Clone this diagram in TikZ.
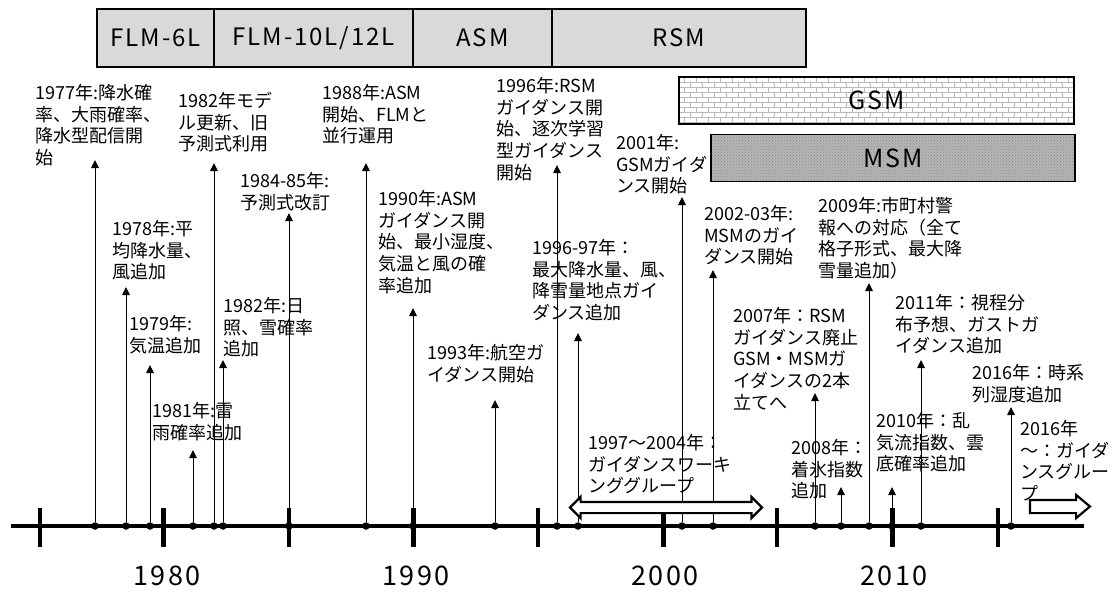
\documentclass[tikz,border=0pt]{standalone}
\usepackage{fontspec}
\setmainfont{Noto Sans CJK JP}
\newfontfamily\widefont[LetterSpace=8]{Noto Sans CJK JP}
\usepackage{tikz}
\usetikzlibrary{arrows.meta,shapes.arrows,patterns,patterns.meta}

\tikzdeclarepattern{
  name=smallbricks,
  bottom left={(-0.5pt,-0.5pt)},
  top right={(12.5pt,10.5pt)},
  tile size={(12pt,10pt)},
  code={
    \draw[line width=0.5pt] (0pt,0pt) -- (12pt,0pt) (0pt,5pt) -- (12pt,5pt)
      (0pt,0pt) -- (0pt,5pt) (6pt,5pt) -- (6pt,10pt);
  }
}

\begin{document}
\begin{tikzpicture}[x=1pt, y=-1pt,
    lbl/.style={anchor=north west, inner sep=0pt, align=left, font=\fontsize{18}{21.7}\selectfont},
    evt/.style={circle, fill=black, inner sep=0pt, minimum size=7.5pt},
    rise/.style={-{Triangle[length=8pt,width=7.5pt]}, line width=0.9pt},
    model/.style={draw, line width=1.2pt, fill=gray!30, minimum height=58pt, inner sep=0pt, font=\widefont\fontsize{24}{28}\selectfont},
    guid/.style={draw, line width=1.2pt, minimum height=47pt, inner sep=0pt, font=\widefont\fontsize{25}{28}\selectfont},
    yr/.style={font=\widefont\fontsize{27}{30}\selectfont, inner sep=0pt}]
    \useasboundingbox (0,0) rectangle (1117,592);

    % Models on top
    \node[model, minimum width=117pt] (flm6) at (155.5,38) {FLM-6L};
    \node[model, minimum width=199pt] (flm10) at (313.5,38) {FLM-10L/12L};
    \node[model, minimum width=139pt] (asm) at (482.5,38) {ASM};
    \node[model, minimum width=254pt] (rsm) at (679,38) {RSM};
    \node[guid, pattern=smallbricks, pattern color=gray!55, minimum width=395pt] (gsm) at (876.5,100.5) {GSM};
    \node[guid, preaction={fill=gray!58}, pattern=crosshatch dots, pattern color=gray!90, minimum width=364pt] (msm) at (893,158) {MSM};

    % Time axis
    \draw[line width=4.5pt] (11,526) -- (1084,526);
    \foreach \x in {40,289,538,777,998}
        \draw[line width=3.5pt] (\x,508) -- (\x,547);
    \foreach \x in {163,413,663,892}
        \draw[line width=5pt] (\x,508) -- (\x,547);
    \node[yr] (y1980) at (167,576) {1980};
    \node[yr] (y1990) at (416,576) {1990};
    \node[yr] (y2000) at (665,576) {2000};
    \node[yr] (y2010) at (894,576) {2010};

    % Events
    \node[evt] (d1977) at (95,526) {};
    \coordinate (t1977) at (95,160);
    \draw[rise] (d1977) -- (t1977);
    \node[lbl] (n1977) at (35,84) {1977年:降水確\\率、大雨確率、\\降水型配信開\\始};

    \node[evt] (d1978) at (126,526) {};
    \coordinate (t1978) at (126,287);
    \draw[rise] (d1978) -- (t1978);
    \node[lbl] (n1978) at (112,220) {1978年:平\\均降水量、\\風追加};

    \node[evt] (d1979) at (150,526) {};
    \coordinate (t1979) at (150,365);
    \draw[rise] (d1979) -- (t1979);
    \node[lbl] (n1979) at (129,315) {1979年:\\気温追加};

    \node[evt] (d1981) at (193,526) {};
    \coordinate (t1981) at (193,450);
    \draw[rise] (d1981) -- (t1981);
    \node[lbl] (n1981) at (152,402) {1981年:雷\\雨確率追加};

    \node[evt] (d1982m) at (214,526) {};
    \coordinate (t1982m) at (214,163);
    \draw[rise] (d1982m) -- (t1982m);
    \node[lbl] (n1982m) at (178,92) {1982年モデ\\ル更新、旧\\予測式利用};

    \node[evt] (d1982s) at (223,526) {};
    \coordinate (t1982s) at (223,360);
    \draw[rise] (d1982s) -- (t1982s);
    \node[lbl] (n1982s) at (223,297) {1982年:日\\照、雪確率\\追加};

    \node[evt] (d1985) at (289,526) {};
    \coordinate (t1985) at (289,213);
    \draw[rise] (d1985) -- (t1985);
    \node[lbl] (n1985) at (240,172) {1984-85年:\\予測式改訂};

    \node[evt] (d1988) at (366,526) {};
    \coordinate (t1988) at (366,163);
    \draw[rise] (d1988) -- (t1988);
    \node[lbl] (n1988) at (322,84) {1988年:ASM\\開始、FLMと\\並行運用};

    \node[evt] (d1990) at (413,526) {};
    \coordinate (t1990) at (413,308);
    \draw[rise] (d1990) -- (t1990);
    \node[lbl] (n1990) at (378,190) {1990年:ASM\\ガイダンス開\\始、最小湿度、\\気温と風の確\\率追加};

    \node[evt] (d1993) at (495,526) {};
    \coordinate (t1993) at (495,400);
    \draw[rise] (d1993) -- (t1993);
    \node[lbl] (n1993) at (427,344) {1993年:航空ガ\\イダンス開始};

    \node[evt] (d1996) at (557,526) {};
    \coordinate (t1996) at (557,165);
    \draw[rise] (d1996) -- (t1996);
    \node[lbl] (n1996) at (496,77) {1996年:RSM\\ガイダンス開\\始、逐次学習\\型ガイダンス\\開始};

    \node[evt] (d1997) at (578,526) {};
    \coordinate (t1997) at (578,333);
    \draw[rise] (d1997) -- (t1997);
    \node[lbl] (n1997) at (532,239) {1996-97年：\\最大降水量、風、\\降雪量地点ガイ\\ダンス追加};

    \node[evt] (d2001) at (682,526) {};
    \coordinate (t2001) at (682,197);
    \draw[rise] (d2001) -- (t2001);
    \node[lbl] (n2001) at (616,134) {2001年:\\GSMガイダ\\ンス開始};

    \node[evt] (d2002) at (713,526) {};
    \coordinate (t2002) at (713,270);
    \draw[rise] (d2002) -- (t2002);
    \node[lbl] (n2002) at (704,205) {2002-03年:\\MSMのガイ\\ダンス開始};

    \node[evt] (d2007) at (815,526) {};
    \coordinate (t2007) at (815,393);
    \draw[rise] (d2007) -- (t2007);
    \node[lbl] (n2007) at (733,307) {2007年：RSM\\ガイダンス廃止\\GSM・MSMガ\\イダンスの2本\\立てへ};

    \node[evt] (d2008) at (841,526) {};
    \coordinate (t2008) at (841,487);
    \draw[rise] (d2008) -- (t2008);
    \node[lbl] (n2008) at (791,439) {2008年：\\着氷指数\\追加};

    \node[evt] (d2009) at (869,526) {};
    \coordinate (t2009) at (869,283);
    \draw[rise] (d2009) -- (t2009);
    \node[lbl] (n2009) at (818,197) {2009年:市町村警\\報への対応（全て\\格子形式、最大降\\雪量追加）};

    \node[evt] (d2010) at (892,526) {};
    \coordinate (t2010) at (892,487);
    \draw[rise] (d2010) -- (t2010);
    \node[lbl] (n2010) at (876,412) {2010年：乱\\気流指数、雲\\底確率追加};

    \node[evt] (d2011) at (921,526) {};
    \coordinate (t2011) at (921,360);
    \draw[rise] (d2011) -- (t2011);
    \node[lbl] (n2011) at (895,294) {2011年：視程分\\布予想、ガストガ\\イダンス追加};

    \node[evt] (d2016) at (1011,526) {};
    \coordinate (t2016) at (1011,407);
    \draw[rise] (d2016) -- (t2016);
    \node[lbl] (n2016) at (972,364) {2016年：時系\\列湿度追加};

    % Guidance groups
    \node[double arrow, draw, line width=2.2pt, fill=white, inner sep=0pt, text height=9pt, text depth=0pt,
          double arrow head extend=5pt, double arrow tip angle=90, minimum height=192pt] (wg) at (666,507.5) {};
    \node[lbl] (nwg) at (588,434) {1997〜2004年：\\ガイダンスワーキ\\ンググループ};
    \node[single arrow, draw, line width=2.2pt, fill=white, inner sep=0pt, text height=11pt, text depth=0pt,
          single arrow head extend=5pt, single arrow tip angle=80, minimum height=60pt] (gg) at (1056,506.5) {};
    \node[lbl] (ngg) at (1020,420) {2016年\\〜：ガイダ\\ンスグルー\\プ};
\end{tikzpicture}
\end{document}
